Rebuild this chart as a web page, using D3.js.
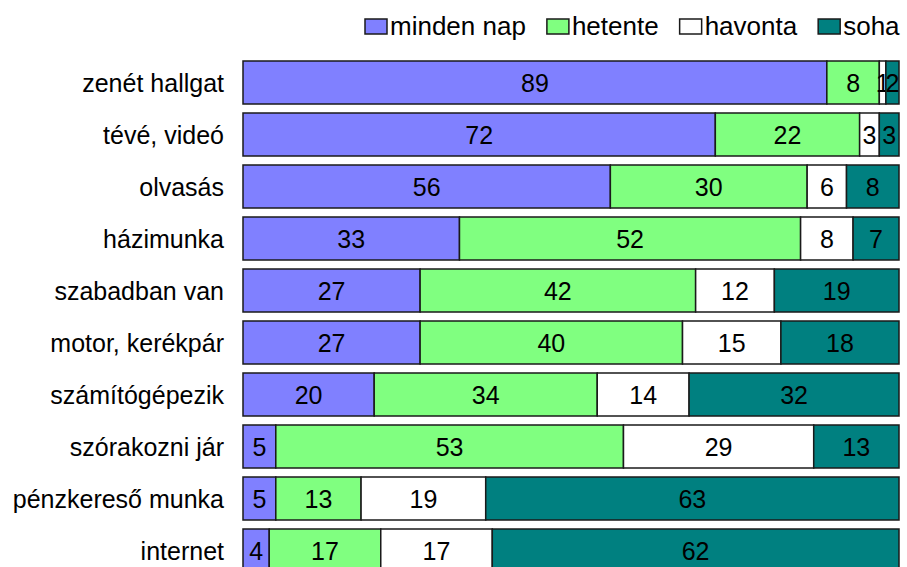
<!DOCTYPE html>
<html>
<head>
<meta charset="utf-8">
<script src="https://cdn.jsdelivr.net/npm/d3@7"></script>
<style>
  body { margin: 0; background: #fff; }
  svg { display: block; font-family: "Liberation Sans", Arial, sans-serif; }
</style>
</head>
<body>
<div id="chart"></div>
<script>
// data
var categories = ["zenét hallgat", "tévé, videó", "olvasás", "házimunka", "szabadban van",
                  "motor, kerékpár", "számítógépezik", "szórakozni jár", "pénzkereső munka", "internet"];
var seriesNames = ["minden nap", "hetente", "havonta", "soha"];
var mindenNap = [89, 72, 56, 33, 27, 27, 20, 5, 5, 4];
var hetente   = [8, 22, 30, 52, 42, 40, 34, 53, 13, 17];
var havonta   = [1, 3, 6, 8, 12, 15, 14, 29, 19, 17];
var soha      = [2, 3, 8, 7, 19, 18, 32, 13, 63, 62];
var colors = ["#8080ff", "#80ff80", "#ffffff", "#008080"];

var width = 907, height = 567;

var svg = d3.select("#chart").append("svg")
  .attr("width", width).attr("height", height);

var rows = categories.map(function(c, i) {
  return { cat: c, "minden nap": mindenNap[i], "hetente": hetente[i], "havonta": havonta[i], "soha": soha[i] };
});
var stacked = d3.stack().keys(seriesNames)(rows);

var x = d3.scaleLinear().domain([0, 100]).range([243, 899]);
var y = d3.scaleBand().domain(categories).range([61, 572]).paddingInner(9 / 52).paddingOuter(0);

// bars
var layers = svg.selectAll("g.layer")
  .data(stacked).enter().append("g")
  .attr("class", "layer")
  .attr("fill", function(d, i) { return colors[i]; });

layers.selectAll("rect")
  .data(function(d) { return d; })
  .enter().append("rect")
  .attr("x", function(d) { return x(d[0]); })
  .attr("y", function(d) { return y(d.data.cat); })
  .attr("width", function(d) { return x(d[1]) - x(d[0]); })
  .attr("height", y.bandwidth())
  .attr("stroke", "#1a1a1a")
  .attr("stroke-width", 1.5);

// value labels
layers.selectAll("text")
  .data(function(d) { return d; })
  .enter().append("text")
  .attr("x", function(d) { return (x(d[0]) + x(d[1])) / 2; })
  .attr("y", function(d) { return y(d.data.cat) + y.bandwidth() / 2; })
  .attr("dy", "0.36em")
  .attr("text-anchor", "middle")
  .attr("fill", "#000")
  .style("font-size", "25px")
  .text(function(d) { return d[1] - d[0]; });

// category labels
svg.append("g").selectAll("text")
  .data(categories).enter().append("text")
  .attr("x", 224)
  .attr("y", function(d) { return y(d) + y.bandwidth() / 2; })
  .attr("dy", "0.36em")
  .attr("text-anchor", "end")
  .style("font-size", "25px")
  .text(function(d) { return d; });

// legend
var legend = svg.append("g");
var lx = 365;
seriesNames.forEach(function(name, i) {
  legend.append("rect")
    .attr("x", lx).attr("y", 19)
    .attr("width", 22).attr("height", 15)
    .attr("fill", colors[i])
    .attr("stroke", "#1a1a1a").attr("stroke-width", 1.5);
  var t = legend.append("text")
    .attr("x", lx + 25).attr("y", 35)
    .style("font-size", "26px")
    .text(name);
  lx = lx + 25 + t.node().getComputedTextLength() + 21;
});
</script>
</body>
</html>
